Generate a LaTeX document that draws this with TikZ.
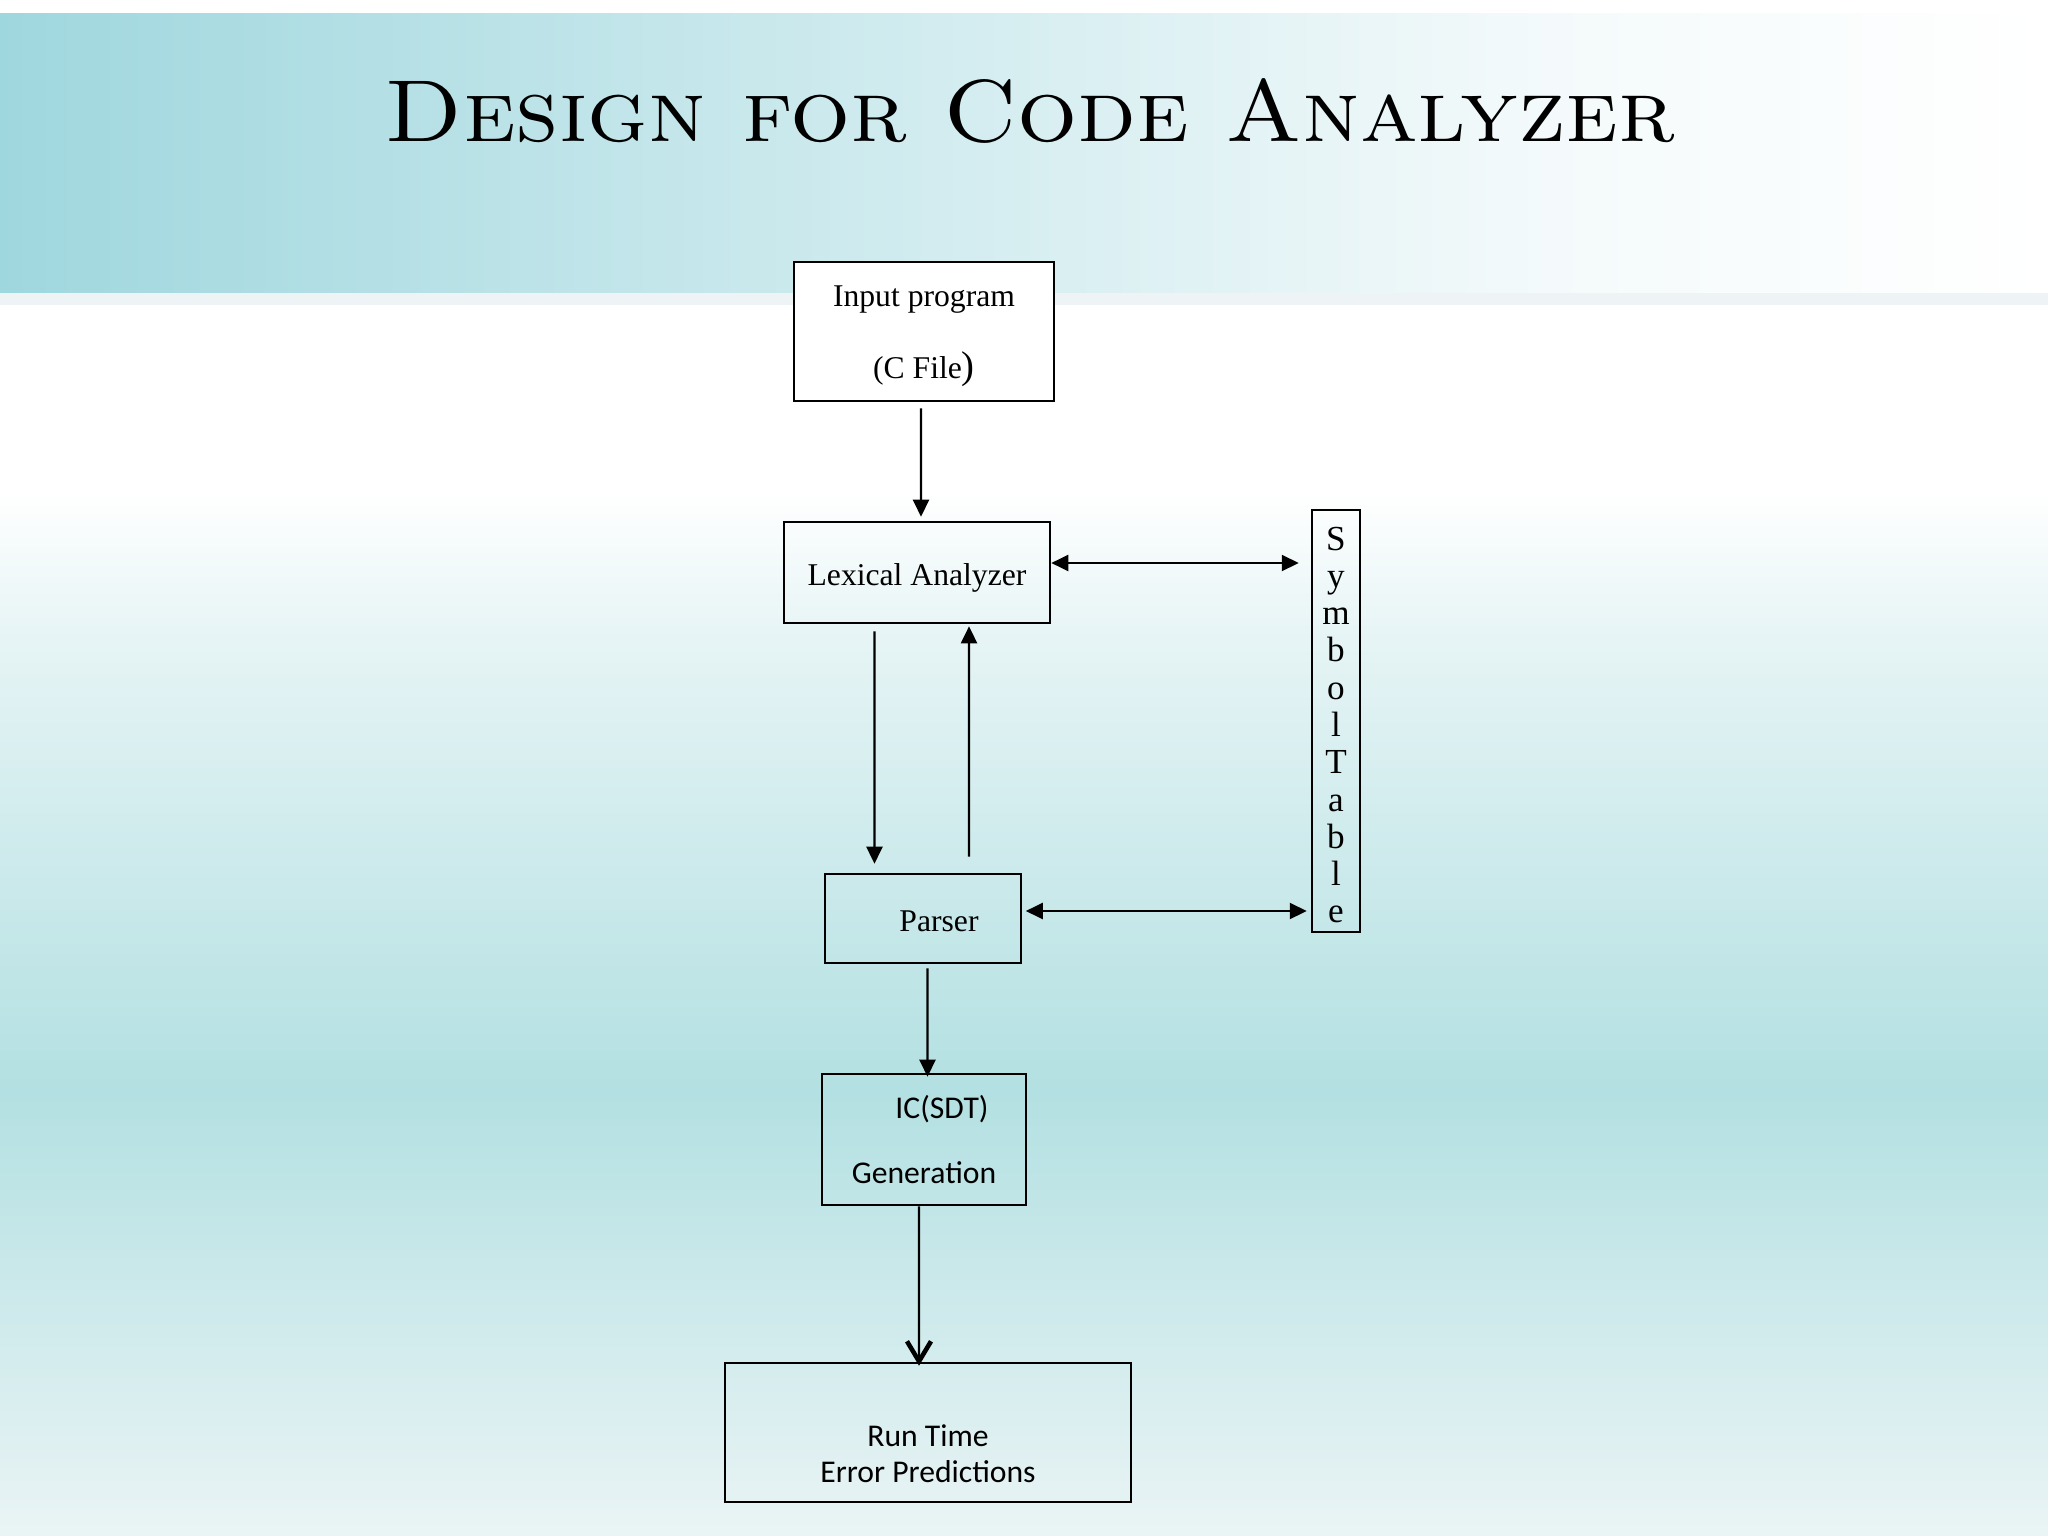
\documentclass[tikz,border=0pt]{standalone}
\usepackage{fontspec}
\newfontfamily\timesfont{Liberation Serif}
\newfontfamily\calibrifont{Carlito}
\usepackage{tikz}
\usetikzlibrary{calc}
\usetikzlibrary{arrows.meta}
\usetikzlibrary{positioning}

\definecolor{bannerL}{HTML}{9FD7DE}
\definecolor{bannerR}{HTML}{F4FAFB}
\definecolor{stripe}{HTML}{EEF4F6}
\definecolor{seaL}{HTML}{B3E0E2}
\definecolor{seaM}{HTML}{E6F4F5}
\definecolor{seaB}{HTML}{EAF4F5}

\newcommand{\lowerby}[2]{\raisebox{-#1}[\height][\depth]{#2}}

\begin{document}
\begin{tikzpicture}[x=0.01cm, y=-0.01cm,
    box/.style={draw=black, line width=0.7pt, inner sep=0pt, rectangle},
    tnr/.style={font=\timesfont\fontsize{9}{11}\selectfont},
    arr/.style={line width=0.6pt, -{Triangle[length=0.17cm,width=0.16cm]}},
    darr/.style={line width=0.6pt, {Triangle[length=0.17cm,width=0.16cm]}-{Triangle[length=0.17cm,width=0.16cm]}},
    varr/.style={line width=0.6pt, -{Straight Barb[length=0.2cm,width=0.24cm,line width=1.3pt]}}]
      \useasboundingbox (0,0) rectangle (2048,1536);
      \fill[white] (0,0) rectangle (2048,1536);
      \shade[left color=bannerL, right color=bannerR] (0,13) rectangle (1550,293);
      \shade[left color=bannerR, right color=white] (1550,13) rectangle (2048,293);
      \fill[stripe] (0,293) rectangle (2048,305);
      \shade[top color=white, bottom color=seaM] (0,490) rectangle (2048,640);
      \shade[top color=seaM, bottom color=seaL] (0,640) rectangle (2048,1090);
      \shade[top color=seaL, bottom color=seaB] (0,1090) rectangle (2048,1536);

      \node[anchor=base, xscale=1.075, font=\fontsize{25}{30}\selectfont\scshape] (title) at (1030,141) {Design for Code Analyzer};

      \node[box, fill=white, align=center, minimum width=2.6cm, minimum height=1.39cm,
            font=\timesfont\fontsize{9}{20.5}\selectfont] (inp) at (924,331.5) {\rule{0pt}{8.8pt}Input program\\(C File{\fontsize{11}{11}\selectfont)}};
      \node[box, tnr, minimum width=2.66cm, minimum height=1.01cm] (lex) at (917,572.5) {\lowerby{0.05cm}{Lexical Analyzer}};
      \node[box, minimum width=0.48cm, minimum height=4.22cm, font=\timesfont\fontsize{10}{10.6}\selectfont] (sym) at (1336,721)
            {\lowerby{0.08cm}{\begin{tabular}{@{}c@{}}S\\y\\m\\b\\o\\l\\T\\a\\b\\l\\e\end{tabular}}};
      \node[box, tnr, minimum width=1.96cm, minimum height=0.89cm] (par) at (923,918.5) {\lowerby{0.03cm}{\hspace*{0.32cm}Parser}};
      \node[box, align=center, minimum width=2.04cm, minimum height=1.31cm,
            font=\calibrifont\fontsize{9}{18.5}\selectfont] (icg) at (924,1139.5) {\hspace*{0.36cm}IC(SDT)\\Generation};
      \node[box, minimum width=4.06cm, minimum height=1.39cm, font=\calibrifont\fontsize{9}{10.2}\selectfont] (run) at (928,1432.5)
            {\lowerby{0.25cm}{\begin{tabular}{@{}c@{}}Run Time\\Error Predictions\end{tabular}}};

      \draw[arr] ([xshift=-0.03cm,yshift=-0.06cm]inp.south) -- ([xshift=0.04cm,yshift=0.04cm]lex.north);
      \draw[darr] ([yshift=0.095cm]lex.east) -- ([xshift=-0.12cm,yshift=0.095cm]lex.east -| sym.west);
      \draw[arr] ([xshift=-0.425cm,yshift=-0.07cm]lex.south) -- ([xshift=-0.485cm,yshift=0.09cm]par.north);
      \draw[arr] ([xshift=0.46cm,yshift=0.16cm]par.north) -- ([xshift=0.52cm,yshift=-0.02cm]lex.south);
      \draw[darr] ([xshift=0.035cm,yshift=0.075cm]par.east) -- ([xshift=-0.04cm,yshift=0.075cm]par.east -| sym.west);
      \draw[arr] ([xshift=0.045cm,yshift=-0.04cm]par.south) -- ([xshift=0.035cm,yshift=-0.04cm]icg.north);
      \draw[varr] ([xshift=-0.05cm]icg.south) -- ([xshift=-0.09cm,yshift=-0.04cm]run.north);
\end{tikzpicture}
\end{document}
